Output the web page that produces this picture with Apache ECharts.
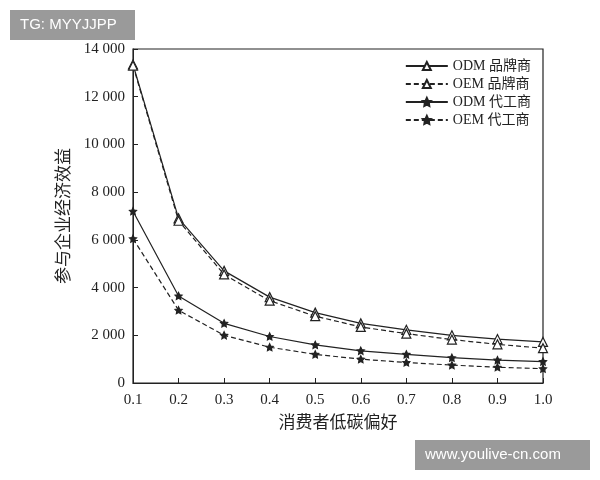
<!DOCTYPE html><html><head><meta charset="utf-8"><script src="https://cdn.jsdelivr.net/npm/echarts@6/dist/echarts.min.js"></script></head><body style="margin:0"><div id="c" style="width:600px;height:480px"></div><script>
const categories=['0.1','0.2','0.3','0.4','0.5','0.6','0.7','0.8','0.9','1.0'];
const odmBrand=[13350,6900,4700,3600,2950,2500,2230,2000,1840,1720];
const oemBrand=[13300,6800,4550,3450,2800,2350,2070,1820,1620,1460];
const odmOem=[7200,3650,2500,1950,1600,1350,1200,1060,960,900];
const oemOem=[6050,3050,2000,1500,1200,1000,860,750,660,600];
const yTicks=[0,2000,4000,6000,8000,10000,12000,14000];
const names=['ODM 品牌商','OEM 品牌商','ODM 代工商','OEM 代工商'];
const ff='"Liberation Serif","Noto Sans CJK SC",serif';
const star='path://M0,-10L2.9,-4L9.5,-3.1L4.8,1.5L5.9,8.1L0,5L-5.9,8.1L-4.8,1.5L-9.5,-3.1L-2.9,-4Z';
function s(n,d,dash,sym){return{name:n,type:'line',data:d,symbol:sym,symbolSize:sym==='triangle'?9:7,
 lineStyle:{color:'#222',width:1.2,type:dash?[5,3]:'solid'},itemStyle:{color:sym==='triangle'?'#fff':'#222',borderColor:'#222',borderWidth:1.2}};}
const ch=echarts.init(document.getElementById('c'));
ch.setOption({animation:false,backgroundColor:'#fff',
grid:{left:133,right:57,top:49,bottom:97,show:true,borderColor:'#222',borderWidth:1.2},
legend:{orient:'vertical',right:64,top:54,itemWidth:42,itemHeight:10,itemGap:4,textStyle:{fontFamily:ff,fontSize:14,color:'#222'},data:names},
xAxis:{type:'category',data:categories,boundaryGap:false,name:'消费者低碳偏好',nameLocation:'middle',nameGap:32,
 nameTextStyle:{fontFamily:ff,fontSize:17,color:'#222'},axisLine:{lineStyle:{color:'#222'}},axisTick:{inside:true,length:5,lineStyle:{color:'#222'}},
 axisLabel:{fontFamily:ff,fontSize:15,color:'#222',margin:10}},
yAxis:{type:'value',min:0,max:14000,interval:2000,name:'参与企业经济效益',nameLocation:'middle',nameGap:60,
 nameTextStyle:{fontFamily:ff,fontSize:17,color:'#222'},splitLine:{show:false},axisLine:{show:true,lineStyle:{color:'#222'}},
 axisTick:{show:true,inside:true,length:5,lineStyle:{color:'#222'}},
 axisLabel:{fontFamily:ff,fontSize:15,color:'#222',formatter:v=>yTicks.includes(v)?String(v).replace(/\B(?=(\d{3})+(?!\d))/g,' '):''}},
series:[s(names[0],odmBrand,false,'triangle'),s(names[1],oemBrand,true,'triangle'),s(names[2],odmOem,false,star),s(names[3],oemOem,true,star)],
graphic:[
 {type:'rect',left:10,top:10,shape:{width:125,height:30},style:{fill:'rgba(120,120,120,0.75)'}},
 {type:'text',left:20,top:17,style:{text:'TG: MYYJJPP',fill:'#fff',font:'15px "Liberation Sans",sans-serif'}},
 {type:'rect',left:415,top:440,shape:{width:175,height:30},style:{fill:'rgba(120,120,120,0.75)'}},
 {type:'text',left:425,top:447,style:{text:'www.youlive-cn.com',fill:'#fff',font:'15px "Liberation Sans",sans-serif'}}
]});
</script></body></html>
